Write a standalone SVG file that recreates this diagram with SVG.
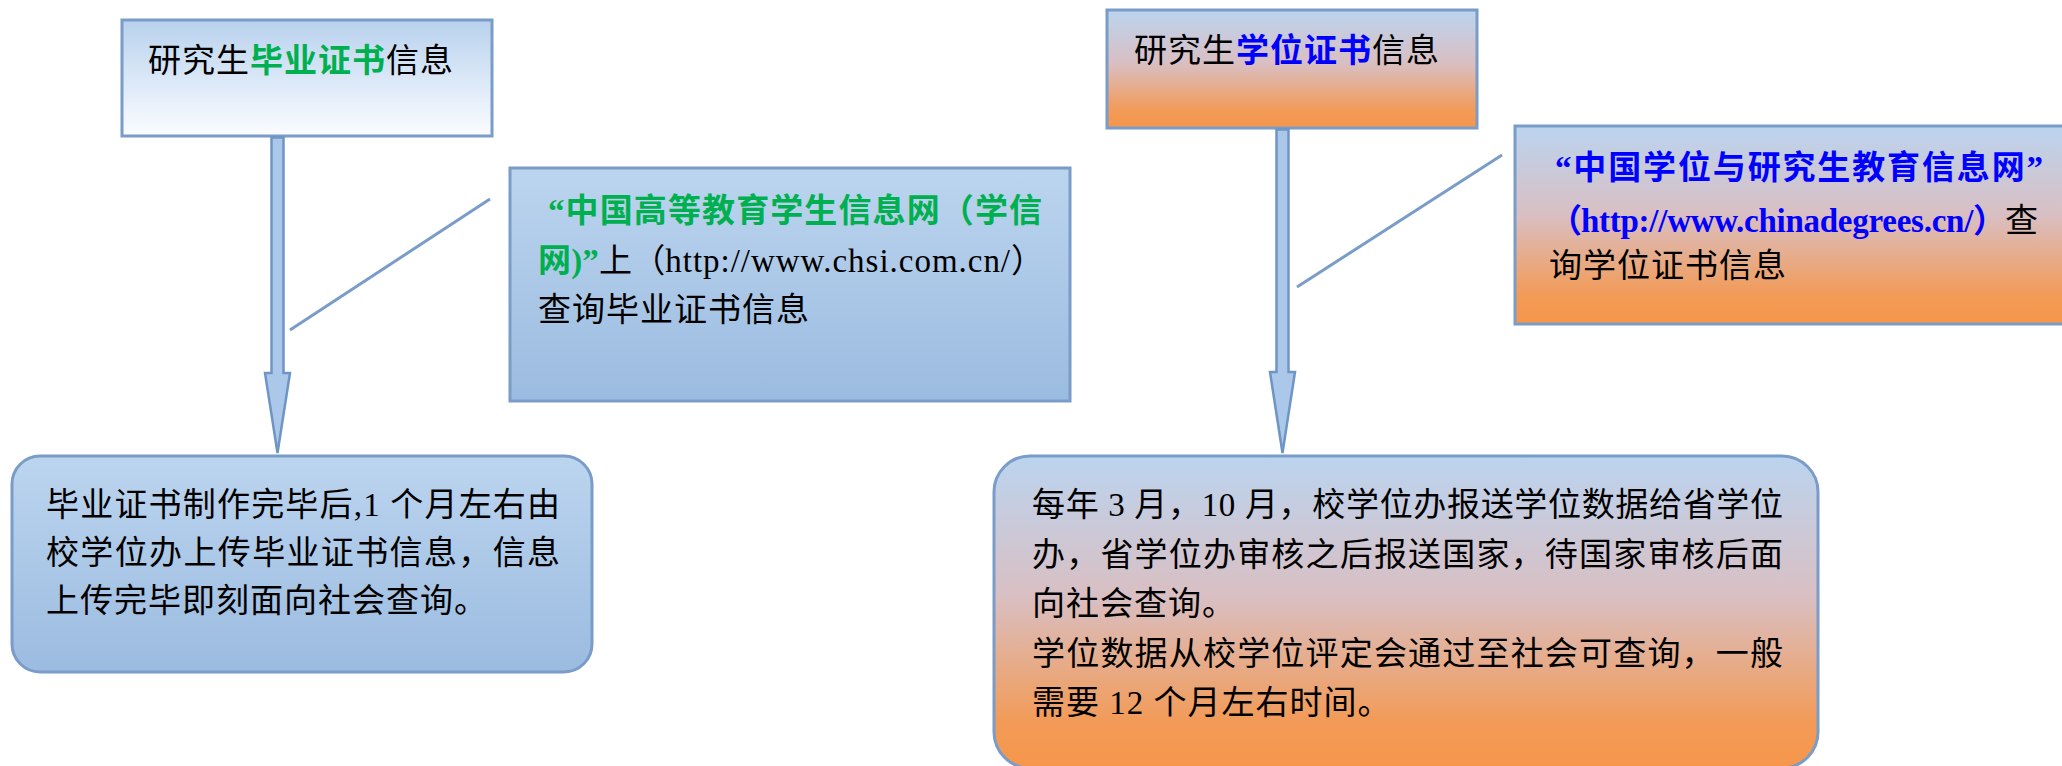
<svg xmlns="http://www.w3.org/2000/svg" width="2062" height="766" viewBox="0 0 2062 766">
<defs>
<linearGradient id="gWhite" x1="0" y1="0" x2="0" y2="1">
<stop offset="0" stop-color="#b8d1ed"/>
<stop offset="0.4" stop-color="#d3e3f5"/>
<stop offset="1" stop-color="#fbfcff"/>
</linearGradient>
<linearGradient id="gBlue" x1="0" y1="0" x2="0" y2="1">
<stop offset="0" stop-color="#bcd5ef"/>
<stop offset="1" stop-color="#9bbbe0"/>
</linearGradient>
<linearGradient id="gOrange" x1="0" y1="0" x2="0" y2="1">
<stop offset="0" stop-color="#bbd4ef"/>
<stop offset="0.45" stop-color="#d9bfc3"/>
<stop offset="0.85" stop-color="#f29b58"/>
<stop offset="1" stop-color="#f6964a"/>
</linearGradient>
</defs>
<style>
.box{stroke:#7a9cc8;stroke-width:3}
.t{font-family:"Liberation Serif","Noto Sans CJK SC",serif;font-size:33px;letter-spacing:1px;fill:#000}
.g{fill:#00b050;font-weight:bold}
.b{fill:#0000ff;font-weight:bold}
.lat{letter-spacing:1.8px}
.line{stroke:#7a9cc8;stroke-width:3;fill:none}
.arrow{fill:#abc8ea;stroke:#6f95c4;stroke-width:2.5;stroke-linejoin:miter}
</style>

<g id="node-graduation-title">
<rect class="box" x="122" y="20" width="370" height="116" fill="url(#gWhite)"/>
<text class="t" x="148" y="72">研究生<tspan class="g">毕业证书</tspan>信息</text>
</g>

<g id="node-chsi">
<rect class="box" x="510" y="168" width="560" height="233" fill="url(#gBlue)"/>
<text class="t" x="548" y="222" textLength="495"><tspan class="g">“中国高等教育学生信息网（学信</tspan></text>
<text class="t" x="538" y="272" textLength="507"><tspan class="g">网)”</tspan>上（<tspan class="lat">http://www.chsi.com.cn/</tspan>）</text>
<text class="t" x="538" y="321">查询毕业证书信息</text>
</g>

<g id="node-graduation-detail">
<rect class="box" x="12" y="456" width="580" height="216" rx="28" fill="url(#gBlue)"/>
<text class="t" x="46" y="516" textLength="515">毕业证书制作完毕后,1 个月左右由</text>
<text class="t" x="46" y="564" textLength="515">校学位办上传毕业证书信息，信息</text>
<text class="t" x="46" y="612">上传完毕即刻面向社会查询。</text>
</g>

<g id="node-degree-title">
<rect class="box" x="1107" y="10" width="370" height="118" fill="url(#gOrange)"/>
<text class="t" x="1134" y="62">研究生<tspan class="b">学位证书</tspan>信息</text>
</g>

<g id="node-chinadegrees">
<rect class="box" x="1515" y="126" width="560" height="198" fill="url(#gOrange)"/>
<text class="t" x="1555" y="179" textLength="489"><tspan class="b">“中国学位与研究生教育信息网”</tspan></text>
<text class="t" x="1549" y="232" textLength="490"><tspan class="b">（<tspan class="lat">http://www.chinadegrees.cn/</tspan>）</tspan>查</text>
<text class="t" x="1549" y="277">询学位证书信息</text>
</g>

<g id="node-degree-detail">
<rect class="box" x="994" y="456" width="824" height="312" rx="36" fill="url(#gOrange)"/>
<text class="t" x="1032" y="516" textLength="752">每年 3 月，10 月，校学位办报送学位数据给省学位</text>
<text class="t" x="1032" y="566" textLength="752">办，省学位办审核之后报送国家，待国家审核后面</text>
<text class="t" x="1032" y="615">向社会查询。</text>
<text class="t" x="1032" y="665" textLength="752">学位数据从校学位评定会通过至社会可查询，一般</text>
<text class="t" x="1032" y="714">需要 12 个月左右时间。</text>
</g>

<g id="connectors">
<path class="arrow" d="M271.5,137.5 L283.5,137.5 L283.5,373 L290,373 L277.5,453 L265,373 L271.5,373 Z"/>
<path class="arrow" d="M1276.5,129.5 L1288.5,129.5 L1288.5,372 L1295,372 L1282.5,453 L1270,372 L1276.5,372 Z"/>
<line class="line" x1="490" y1="199" x2="290" y2="330"/>
<line class="line" x1="1502" y1="155" x2="1297" y2="287"/>
</g>
</svg>
